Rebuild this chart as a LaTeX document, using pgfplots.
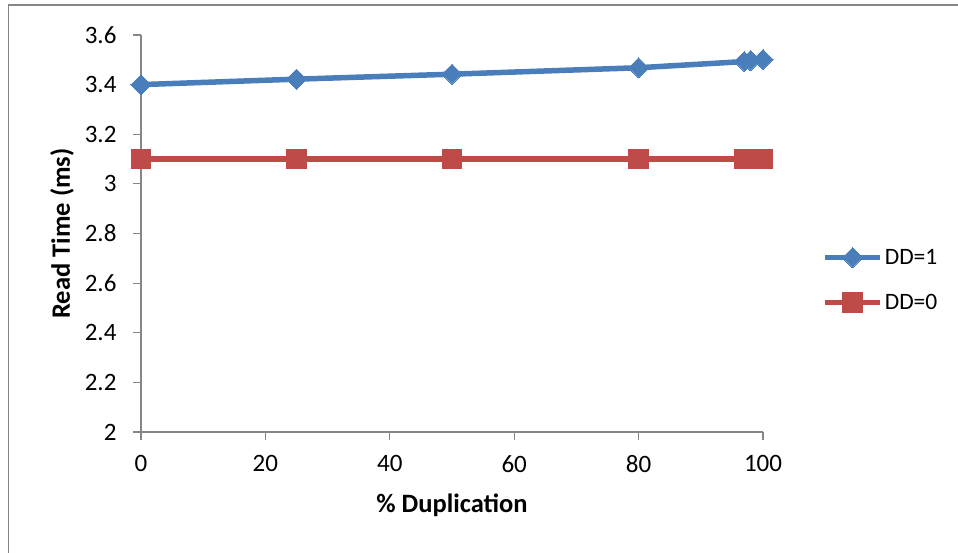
\documentclass[border=0pt]{standalone}
\usepackage{fontspec}
\setmainfont{Carlito}
\usepackage{pgfplots}
\pgfplotsset{compat=1.18}
\definecolor{axgray}{HTML}{868686}
\definecolor{sblue}{HTML}{4A7EBB}
\definecolor{sred}{HTML}{BE4B48}
\begin{document}
\begin{tikzpicture}
\useasboundingbox (0pt,0pt) rectangle (958pt,553pt);
\draw[axgray, line width=1.5pt] (8.3pt,0pt) -- (8.3pt,548pt) -- (958pt,548pt);
\begin{axis}[
  at={(141pt,121pt)}, anchor=south west,
  scale only axis, width=622pt, height=397pt,
  xmin=0, xmax=100, ymin=2, ymax=3.6,
  xtick={0,20,40,60,80,100},
  ytick={2,2.2,2.4,2.6,2.8,3,3.2,3.4,3.6},
  axis x line*=bottom, axis y line*=left,
  axis line style={axgray, line width=1.2pt, -},
  tick style={axgray, line width=1.2pt},
  tick align=outside, major tick length=8pt,
  /pgf/number format/assume math mode=true,
  tick label style={font=\fontsize{25}{30}\selectfont, black},
  xticklabel style={yshift=-12pt},
  yticklabel style={xshift=-13pt},
  label style={font=\bfseries\fontsize{26.5}{31}\selectfont},
  xlabel={\% Duplication},
  ylabel={Read Time (ms)},
  xlabel style={at={(axis description cs:0.5,-0.184)}, anchor=center},
  ylabel style={at={(axis description cs:-0.127,0.5)}, anchor=center, rotate=0},
  clip=false,
  legend style={at={(1.095,0.383)}, anchor=west, draw=none, fill=none,
    font=\fontsize{23.5}{28}\selectfont, row sep=24pt, inner sep=0pt},
  legend cell align=left,
  legend image code/.code={%
    \draw[#1,mark repeat=2,mark phase=2] plot coordinates {(0pt,0pt) (27.5pt,0pt) (55pt,0pt)};},
]
\addplot[sblue, line width=5.5pt, mark=square*, mark size=7.1pt, mark options={rotate=45, line width=0pt, fill=sblue}]
  coordinates {(0,3.40) (25,3.422) (50,3.442) (80,3.468) (97,3.493) (98,3.497) (100,3.502)};
\addlegendentry{DD=1}
\addplot[sred, line width=5.5pt, mark=square*, mark size=9.8pt, mark options={line width=0pt, fill=sred}]
  coordinates {(0,3.1) (25,3.1) (50,3.1) (80,3.1) (97,3.1) (98,3.1) (100,3.1)};
\addlegendentry{DD=0}
\end{axis}
\end{tikzpicture}
\end{document}
